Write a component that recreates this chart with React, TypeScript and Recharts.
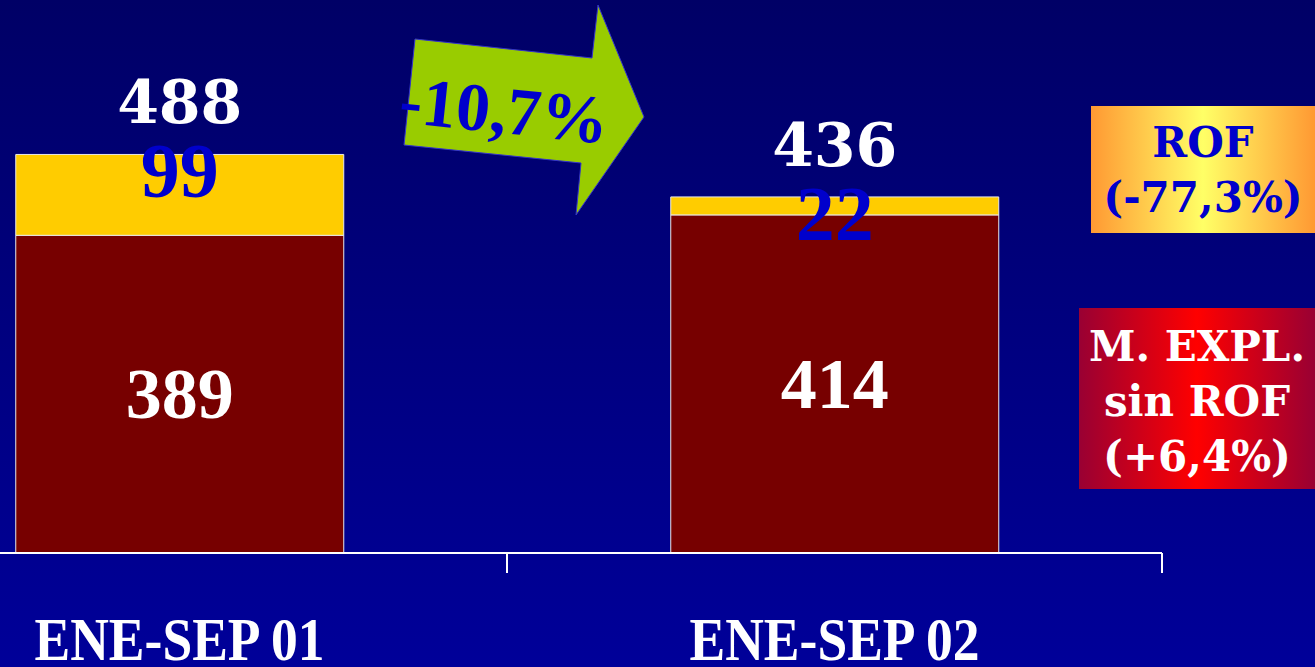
import React from 'react';
import { BarChart, Bar, XAxis, YAxis, LabelList } from 'recharts';

const categories = ['ENE-SEP 01', 'ENE-SEP 02'];
const mexplValues = [389, 414];
const rofValues = [99, 22];
const totals = [488, 436];
const arrowText = '-10,7%';
const rofLegend = ['ROF', '(-77,3%)'];
const mexplLegend = ['M. EXPL.', 'sin ROF', '(+6,4%)'];

const data = categories.map((name, i) => ({
  name,
  mexpl: mexplValues[i],
  rof: rofValues[i],
  total: totals[i],
}));

const CHART_W = 1312;
const PLOT_W = 1310;
const BAND = PLOT_W / categories.length;
const SERIF = '"Liberation Serif", "Times New Roman", serif';
const WIDE_SERIF = '"DejaVu Serif", serif';

const AxisTick = (props: any) => {
  const { x, y, payload } = props;
  return (
    <g>
      <line x1={x + BAND / 2} y1={y} x2={x + BAND / 2} y2={y + 20} stroke="#ffffff" strokeWidth={2} />
      <text
        x={x}
        y={y + 107}
        textAnchor="middle"
        fill="#ffffff"
        fontFamily={SERIF}
        fontWeight="bold"
        fontSize={62}
        textLength={290}
        lengthAdjust="spacingAndGlyphs"
      >
        {payload.value}
      </text>
    </g>
  );
};

const renderInner = (p: any) => (
  <text
    x={p.x + p.width / 2}
    y={p.y + p.height / 2}
    textAnchor="middle"
    dominantBaseline="central"
    fill="#ffffff"
    fontFamily={SERIF}
    fontWeight="bold"
    fontSize={72}
  >
    {p.value}
  </text>
);

const renderRof = (p: any) => (
  <text
    x={p.x + p.width / 2}
    y={p.y + 43}
    textAnchor="middle"
    fill="#0000cc"
    fontFamily={SERIF}
    fontWeight="bold"
    fontSize={78}
  >
    {p.value}
  </text>
);

const renderTotal = (p: any) => (
  <text
    x={p.x + p.width / 2}
    y={p.y - 31}
    textAnchor="middle"
    fill="#ffffff"
    fontFamily={WIDE_SERIF}
    fontWeight="bold"
    fontSize={60}
  >
    {p.value}
  </text>
);

const legendBox = (lines: string[], style: React.CSSProperties, color: string) => (
  <div
    style={{
      position: 'absolute',
      display: 'flex',
      flexDirection: 'column',
      justifyContent: 'center',
      alignItems: 'center',
      fontFamily: WIDE_SERIF,
      fontWeight: 'bold',
      fontSize: 42,
      lineHeight: '55px',
      color,
      whiteSpace: 'nowrap',
      ...style,
    }}
  >
    {lines.map((l) => (
      <div key={l}>{l}</div>
    ))}
  </div>
);

export default function App() {
  return (
    <div
      style={{
        position: 'absolute',
        left: 0,
        top: 0,
        width: 1315,
        height: 667,
        overflow: 'hidden',
        background: 'linear-gradient(#000066, #000099)',
      }}
    >
      <div style={{ position: 'absolute', left: -148, top: 0 }}>
        <BarChart
          width={CHART_W}
          height={667}
          data={data}
          margin={{ top: 63, right: CHART_W - PLOT_W, bottom: 0, left: 0 }}
          barCategoryGap="25%"
        >
          <XAxis
            dataKey="name"
            height={114}
            interval={0}
            axisLine={{ stroke: '#ffffff', strokeWidth: 2 }}
            tickLine={false}
            tickSize={0}
            tickMargin={0}
            tick={<AxisTick />}
          />
          <YAxis hide domain={[0, 600]} />
          <Bar dataKey="mexpl" stackId="a" fill="#770000" stroke="#e8e8e8" strokeWidth={1} isAnimationActive={false}>
            <LabelList dataKey="mexpl" content={renderInner} />
          </Bar>
          <Bar dataKey="rof" stackId="a" fill="#ffcc00" stroke="#e8e8e8" strokeWidth={1} isAnimationActive={false}>
            <LabelList dataKey="rof" content={renderRof} />
            <LabelList dataKey="total" content={renderTotal} />
          </Bar>
        </BarChart>
      </div>

      <svg width={1315} height={667} style={{ position: 'absolute', left: 0, top: 0, pointerEvents: 'none' }}>
        <polygon
          points="415,39 592,58 598,5 644,117 576,215 581,163 404,145"
          fill="#99cc00"
          stroke="#3333cc"
          strokeWidth={1}
        />
        <text
          x={502}
          y={133}
          transform="rotate(6 502 133)"
          textAnchor="middle"
          fill="#0000cc"
          fontFamily={SERIF}
          fontWeight="bold"
          fontSize={68}
        >
          {arrowText}
        </text>
      </svg>

      {legendBox(
        rofLegend,
        {
          left: 1091,
          top: 106,
          width: 224,
          height: 127,
          background: 'linear-gradient(90deg, #ff9933, #ffff66 50%, #ff9933)',
        },
        '#0000cc'
      )}
      {legendBox(
        mexplLegend,
        {
          left: 1079,
          top: 308,
          width: 236,
          height: 181,
          paddingTop: 6,
          boxSizing: 'border-box',
          background: 'linear-gradient(90deg, #990033, #ff0000 50%, #990033)',
        },
        '#ffffff'
      )}
    </div>
  );
}
